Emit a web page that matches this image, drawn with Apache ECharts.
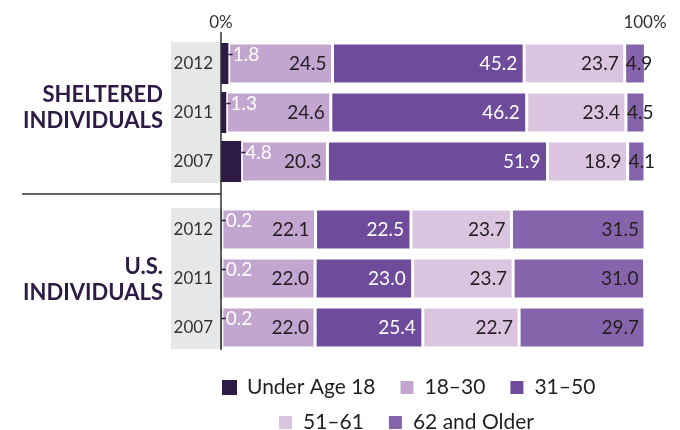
<!DOCTYPE html>
<html>
<head>
<meta charset="utf-8">
<script src="https://cdn.jsdelivr.net/npm/echarts@6/dist/echarts.min.js"></script>
<style>
  html, body { margin: 0; padding: 0; background: #fff; }
  #chart { width: 680px; height: 430px; }
</style>
</head>
<body>
<div id="chart"></div>
<script>
const years = ['2012', '2011', '2007']
const ageGroups = ['Under Age 18', '18–30', '31–50', '51–61', '62 and Older']
const groupTitles = ['SHELTERED\nINDIVIDUALS', 'U.S.\nINDIVIDUALS']
const axisTicks = [0, 100]

const shelteredUnder18 = [1.8, 1.3, 4.8]
const sheltered18to30 = [24.5, 24.6, 20.3]
const sheltered31to50 = [45.2, 46.2, 51.9]
const sheltered51to61 = [23.7, 23.4, 18.9]
const sheltered62plus = [4.9, 4.5, 4.1]

const usUnder18 = [0.2, 0.2, 0.2]
const us18to30 = [22.1, 22.0, 22.0]
const us31to50 = [22.5, 23.0, 25.4]
const us51to61 = [23.7, 23.7, 22.7]
const us62plus = [31.5, 31.0, 29.7]

const colors = ['#2e1a47', '#c3a6d0', '#6f4b9c', '#dbc4df', '#8664ab']
const FONT = 'Lato'
const dark = '#231f20'

const fmt = v => v.toFixed(1)

const seriesLabel = idx => {
    if (idx === 0) {
        // white value with a small dark leader tick, sitting in the upper half of the bar
        return {
            show: true,
            position: 'right',
            distance: 0,
            offset: [0, -9],
            fontFamily: FONT,
            fontSize: 19,
            color: '#fff',
            formatter: p => '{t|}' + fmt(p.value),
            rich: {
                t: { width: 4, height: 1.5, backgroundColor: '#2e1a47' }
            }
        }
    }
    return {
        show: true,
        position: 'insideRight',
        distance: idx === 2 ? 7 : 6,
        fontFamily: FONT,
        fontSize: 19,
        color: idx === 2 ? '#fff' : dark,
        formatter: p => fmt(p.value)
    }
}

// small 62+ values sit at the left edge of their segment
const dataItem = (idx, v) => (idx === 4 && v < 10 ? { value: v, label: { position: 'insideLeft', distance: 1 } } : v)

const makeSeries = (gridIdx, lists) =>
    lists.map((list, i) => ({
        name: ageGroups[i],
        type: 'bar',
        stack: 'g' + gridIdx,
        xAxisIndex: gridIdx,
        yAxisIndex: gridIdx,
        barWidth: 41,
        itemStyle: { color: colors[i], borderColor: '#fff', borderWidth: i === 0 ? 0 : 1.5 },
        label: seriesLabel(i),
        data: list.map(v => dataItem(i, v))
    }))

const series = makeSeries(0, [shelteredUnder18, sheltered18to30, sheltered31to50, sheltered51to61, sheltered62plus])
    .concat(makeSeries(1, [usUnder18, us18to30, us31to50, us51to61, us62plus]))

const yAxisFor = idx => ({
    type: 'category',
    gridIndex: idx,
    inverse: true,
    data: years,
    axisLine: { show: false },
    axisTick: { show: false },
    axisLabel: { margin: 8, fontFamily: FONT, fontSize: 17, color: '#333' }
})

const titleText = (text, x, y) => ({
    type: 'text',
    x,
    y,
    z: 10,
    style: {
        text,
        align: 'right',
        verticalAlign: 'middle',
        lineHeight: 26,
        fill: '#2d1a45',
        font: 'bold 22px ' + FONT
    }
})

const legendBase = {
    orient: 'horizontal',
    itemWidth: 15,
    itemHeight: 15,
    itemGap: 23,
    icon: 'rect',
    textStyle: { fontFamily: FONT, fontSize: 21, color: dark, padding: [0, 0, 0, 5] }
}

const option = {
    animation: false,
    color: colors,
    grid: [
        { left: 221, right: 35, top: 39, height: 147 },
        { left: 221, right: 35, top: 205, height: 147 }
    ],
    xAxis: [
        {
            type: 'value',
            gridIndex: 0,
            position: 'top',
            min: axisTicks[0],
            max: axisTicks[1],
            interval: 100,
            splitLine: { show: false },
            axisLine: { show: false },
            axisTick: { show: false },
            axisLabel: { margin: 8, fontFamily: FONT, fontSize: 17, color: '#333', formatter: '{value}%' }
        },
        { type: 'value', gridIndex: 1, min: 0, max: 100, show: false }
    ],
    yAxis: [yAxisFor(0), yAxisFor(1)],
    legend: [
        Object.assign({}, legendBase, { left: 217, top: 372, data: ageGroups.slice(0, 3) }),
        Object.assign({}, legendBase, { left: 272, top: 407, data: ageGroups.slice(3) })
    ],
    graphic: [
        { type: 'rect', z: -1, shape: { x: 171, y: 42, width: 50, height: 141 }, style: { fill: '#e6e7e8' } },
        { type: 'rect', z: -1, shape: { x: 171, y: 208, width: 50, height: 141 }, style: { fill: '#e6e7e8' } },
        { type: 'line', z: 10, shape: { x1: 221, y1: 32, x2: 221, y2: 350 }, style: { stroke: '#333', lineWidth: 1.5 } },
        { type: 'line', z: 10, shape: { x1: 22, y1: 194, x2: 221, y2: 194 }, style: { stroke: '#333', lineWidth: 1.5 } },
        titleText(groupTitles[0], 163, 108),
        titleText(groupTitles[1], 163, 280)
    ],
    series
}

const chart = echarts.init(document.getElementById('chart'), null, { renderer: 'canvas' })
chart.setOption(option)
</script>
</body>
</html>
